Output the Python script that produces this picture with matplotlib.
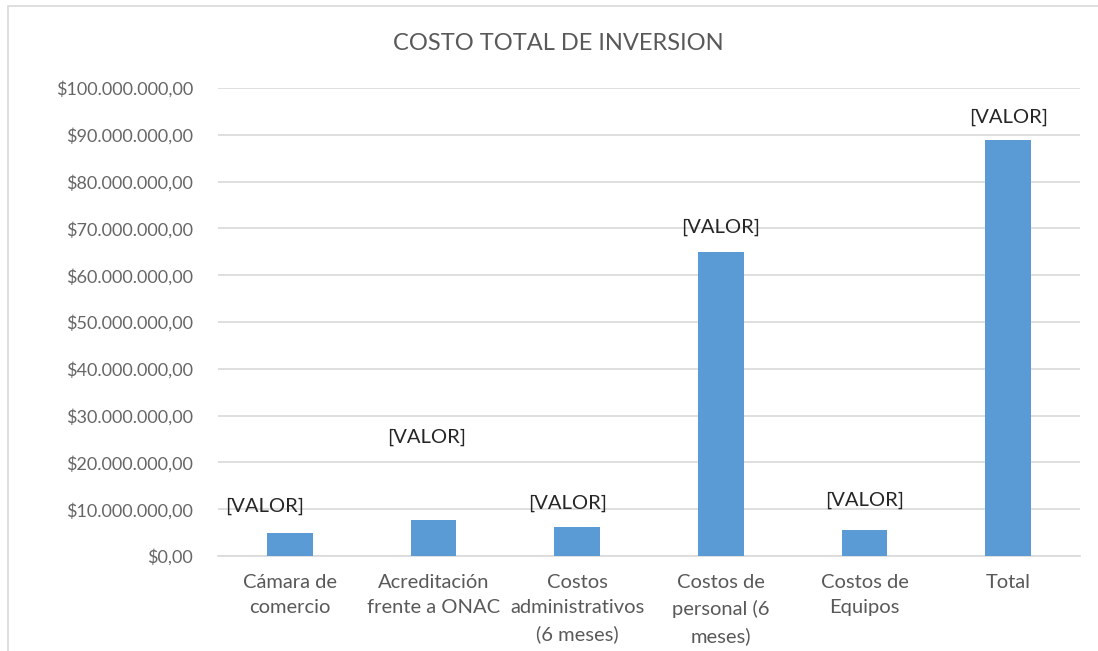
import matplotlib.pyplot as plt
from matplotlib.ticker import FuncFormatter, MultipleLocator
from matplotlib.patches import Rectangle

# Datos
categorias = ['Cámara de\ncomercio', 'Acreditación\nfrente a ONAC',
              'Costos\nadministrativos\n(6 meses)', 'Costos de\npersonal (6\nmeses)',
              'Costos de\nEquipos', 'Total']
valores = [4.9e6, 7.7e6, 6.2e6, 65.0e6, 5.5e6, 88.9e6]
etiquetas = ['[VALOR]'] * 6

# Desplazamiento de las etiquetas (px) respecto a la parte superior de la barra
desplazamientos = [(-25, 27), (-7, 83), (-10, 24), (0, 24), (0, 30), (0, 23)]

plt.rcParams['font.family'] = ['Lato', 'DejaVu Sans']

fig = plt.figure(figsize=[10.98, 6.51], dpi=100)
ax = fig.add_axes([218 / 1098, 1 - 556 / 651, (1080 - 218) / 1098, (556 - 88) / 651])

# Marco del gráfico
fig.patches.append(Rectangle((8 / 1098, -0.1), 1.2, 1 - 6 / 651 + 0.1, transform=fig.transFigure,
                             fill=False, edgecolor='#d9d9d9', linewidth=1.2))

x = range(len(categorias))
ax.bar(x, valores, width=0.32, color='#5b9bd5', zorder=3)

for i, (v, txt) in enumerate(zip(valores, etiquetas)):
    dx, dy = desplazamientos[i]
    ax.annotate(txt, (i, v), xytext=(dx * 0.72, dy * 0.72), textcoords='offset points',
                ha='center', va='center', fontsize=14.5, color='#262626', zorder=4)

ax.set_xlim(-0.5, len(categorias) - 0.5)
ax.set_ylim(0, 100e6)
ax.yaxis.set_major_locator(MultipleLocator(10e6))


def formato_pesos(v, pos):
    s = f'{v:,.2f}'.replace(',', 'X').replace('.', ',').replace('X', '.')
    return '$' + s


ax.yaxis.set_major_formatter(FuncFormatter(formato_pesos))
ax.set_xticks(list(x))
ax.set_xticklabels(categorias, linespacing=1.6)

ax.grid(axis='y', color='#d9d9d9', linewidth=1.2, zorder=0)
for s in ['top', 'right', 'left']:
    ax.spines[s].set_visible(False)
ax.spines['bottom'].set_color('#d9d9d9')
ax.spines['bottom'].set_linewidth(1.2)

ax.tick_params(axis='y', length=0, pad=18, labelsize=13, labelcolor='#666666')
ax.tick_params(axis='x', length=0, pad=13, labelsize=14.5, labelcolor='#595959')

fig.text(558 / 1098, 1 - 43 / 651, 'COSTO TOTAL DE INVERSION', ha='center', va='center',
         fontsize=17, color='#595959')

fig.savefig('out.png', dpi=100)
